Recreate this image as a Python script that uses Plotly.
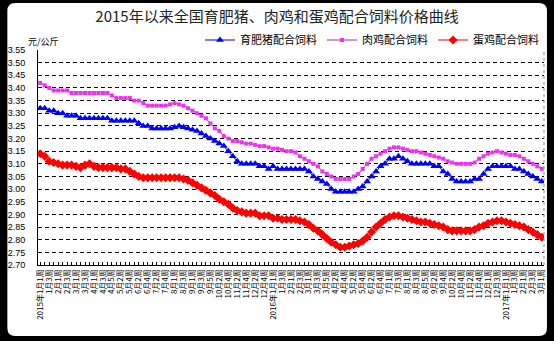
import plotly.graph_objects as go

# weeks per month (2015, 2016, early 2017)
weeks_2015 = [4, 4, 4, 5, 4, 4, 5, 4, 5, 4, 4, 5]
weeks_2016 = [4, 4, 5, 4, 4, 5, 4, 5, 4, 4, 5, 4]
weeks_2017 = [4, 4, 1]

pig = [3.32, 3.32, 3.31, 3.31, 3.30, 3.30, 3.29, 3.29, 3.29, 3.28,
       3.28, 3.28, 3.28, 3.28, 3.28, 3.28, 3.27, 3.27, 3.27, 3.27,
       3.27, 3.27, 3.26, 3.25, 3.25, 3.24, 3.24, 3.24, 3.24, 3.24,
       3.245, 3.25, 3.245, 3.24, 3.235, 3.23, 3.22, 3.21, 3.20, 3.19,
       3.18, 3.17, 3.15, 3.13, 3.11, 3.10, 3.10, 3.10, 3.10, 3.09,
       3.09, 3.08, 3.09, 3.08, 3.08, 3.08, 3.08, 3.08, 3.08, 3.08,
       3.07, 3.05, 3.04, 3.03, 3.02, 3.00, 2.99, 2.99, 2.99, 2.99,
       2.99, 3.00, 3.01, 3.03, 3.05, 3.07, 3.09, 3.10, 3.12, 3.12,
       3.13, 3.12, 3.11, 3.10, 3.10, 3.10, 3.10, 3.10, 3.09, 3.09,
       3.07, 3.06, 3.04, 3.03, 3.03, 3.03, 3.03, 3.04, 3.04, 3.06,
       3.08, 3.09, 3.09, 3.09, 3.09, 3.09, 3.08, 3.08, 3.07, 3.06,
       3.05, 3.04, 3.03]

broiler = [3.42, 3.41, 3.40, 3.39, 3.39, 3.39, 3.39, 3.38, 3.38, 3.38,
           3.38, 3.38, 3.38, 3.38, 3.38, 3.38, 3.37, 3.36, 3.36, 3.36,
           3.36, 3.35, 3.35, 3.34, 3.33, 3.33, 3.33, 3.33, 3.33, 3.335,
           3.34, 3.335, 3.33, 3.32, 3.31, 3.30, 3.29, 3.28, 3.26, 3.24,
           3.23, 3.21, 3.20, 3.19, 3.19, 3.185, 3.18, 3.18, 3.175, 3.17,
           3.17, 3.165, 3.16, 3.16, 3.155, 3.15, 3.15, 3.145, 3.13, 3.12,
           3.11, 3.10, 3.09, 3.07, 3.06, 3.05, 3.04, 3.04, 3.04, 3.04,
           3.05, 3.06, 3.08, 3.10, 3.12, 3.13, 3.14, 3.15, 3.16, 3.165,
           3.165, 3.16, 3.155, 3.15, 3.15, 3.145, 3.14, 3.135, 3.13, 3.125,
           3.12, 3.11, 3.105, 3.10, 3.10, 3.10, 3.10, 3.105, 3.12, 3.13,
           3.14, 3.145, 3.15, 3.145, 3.14, 3.135, 3.135, 3.13, 3.12, 3.11,
           3.10, 3.09, 3.08]

layer = [3.14, 3.13, 3.11, 3.105, 3.10, 3.095, 3.095, 3.095, 3.09, 3.085,
         3.095, 3.10, 3.09, 3.085, 3.085, 3.085, 3.085, 3.085, 3.08, 3.08,
         3.07, 3.06, 3.05, 3.045, 3.045, 3.045, 3.045, 3.045, 3.045, 3.045,
         3.045, 3.045, 3.04, 3.035, 3.025, 3.015, 3.005, 2.995, 2.985, 2.975,
         2.96, 2.95, 2.94, 2.925, 2.915, 2.91, 2.905, 2.905, 2.905, 2.895,
         2.895, 2.895, 2.885, 2.885, 2.88, 2.88, 2.88, 2.88, 2.875, 2.87,
         2.86, 2.845, 2.835, 2.82, 2.805, 2.79, 2.78, 2.77, 2.77, 2.775,
         2.78, 2.785, 2.795, 2.81, 2.83, 2.85, 2.865, 2.88, 2.89, 2.895,
         2.895, 2.89, 2.885, 2.88, 2.875, 2.87, 2.87, 2.865, 2.86, 2.855,
         2.85, 2.84, 2.835, 2.835, 2.835, 2.835, 2.835, 2.84, 2.85, 2.855,
         2.865, 2.87, 2.875, 2.875, 2.87, 2.865, 2.86, 2.855, 2.85, 2.84,
         2.83, 2.82, 2.81]

series_names = ["育肥猪配合饲料", "肉鸡配合饲料", "蛋鸡配合饲料"]
y_ticks = [2.70 + 0.05 * k for k in range(18)]

# build week category labels
labels = []
for year, counts in ((2015, weeks_2015), (2016, weeks_2016), (2017, weeks_2017)):
    for m, n in enumerate(counts, start=1):
        for w in range(1, n + 1):
            if m == 1 and w == 1:
                labels.append(f"{year}年{m}月{w}周")
            else:
                labels.append(f"{m}月{w}周")
labels = labels[:len(pig)]
x = list(range(len(labels)))
ticktext = [lab if i % 2 == 0 else "" for i, lab in enumerate(labels)]

fig = go.Figure()
fig.add_trace(go.Scatter(x=x, y=pig, name=series_names[0], mode="lines+markers",
                         line=dict(color="#0000CC", width=1),
                         marker=dict(symbol="triangle-up", size=7, color="#0000FF")))
fig.add_trace(go.Scatter(x=x, y=broiler, name=series_names[1], mode="lines+markers",
                         line=dict(color="#9933AA", width=1),
                         marker=dict(symbol="square", size=4, color="#EE33EE")))
fig.add_trace(go.Scatter(x=x, y=layer, name=series_names[2], mode="lines+markers",
                         line=dict(color="#EE0000", width=1),
                         marker=dict(symbol="diamond", size=7, color="#FF0000")))

L, R, T, B = 34, 8, 50, 76
W, H = 554, 341
pw, ph = W - L - R, H - T - B

def px(xp):
    return (xp - L) / pw

def py(yp):
    return (H - B - yp) / ph

r = 8
x0, x1, y0, y1 = px(3), px(549), py(3), py(336)
rx, ry = r / pw, r / ph
path = (f"M {x0+rx},{y0} L {x1-rx},{y0} Q {x1},{y0} {x1},{y0-ry} "
        f"L {x1},{y1+ry} Q {x1},{y1} {x1-rx},{y1} L {x0+rx},{y1} "
        f"Q {x0},{y1} {x0},{y1+ry} L {x0},{y0-ry} Q {x0},{y0} {x0+rx},{y0} Z")

fig.update_layout(
    width=W, height=H,
    margin=dict(l=L, r=R, t=T, b=B),
    paper_bgcolor="black",
    plot_bgcolor="white",
    font=dict(family="Noto Sans CJK SC", color="black"),
    title=dict(text="2015年以来全国育肥猪、肉鸡和蛋鸡配合饲料价格曲线",
               x=0.5, xanchor="center", y=1 - 17 / H, yanchor="middle",
               font=dict(size=15, color="#222222", family="Noto Sans CJK SC")),
    legend=dict(orientation="h", x=1.0, xanchor="right", y=py(40), yanchor="middle",
                font=dict(size=11, family="Noto Sans CJK SC"), bgcolor="rgba(0,0,0,0)",
                itemwidth=30, tracegroupgap=0),
    shapes=[
        dict(type="path", xref="paper", yref="paper", path=path,
             fillcolor="white", line=dict(width=0), layer="below"),
        dict(type="line", xref="paper", yref="paper", x0=1, x1=1, y0=0, y1=1,
             line=dict(color="#888888", width=1, dash="dot")),
    ],
    annotations=[
        dict(text="元/公斤", xref="paper", yref="paper", x=px(22), y=py(42),
             xanchor="left", yanchor="middle", showarrow=False,
             font=dict(size=9, family="Noto Sans CJK SC", color="black")),
    ],
)

fig.update_xaxes(range=[-0.5, len(x) - 0.5], tickmode="array", tickvals=x,
                 ticktext=ticktext, tickangle=-90, ticks="inside", ticklen=3,
                 tickcolor="black", showline=True, linecolor="black", linewidth=1,
                 showgrid=False, zeroline=False,
                 tickfont=dict(size=8, family="Noto Sans CJK SC", color="black"))
fig.update_yaxes(range=[2.70, 3.55], tickmode="array", tickvals=y_ticks,
                 ticktext=[f"{v:.2f}" for v in y_ticks], ticks="",
                 showline=True, linecolor="black", linewidth=1,
                 showgrid=True, gridcolor="black", gridwidth=1, griddash="4px,3px",
                 zeroline=False, ticklabelstandoff=10,
                 tickfont=dict(size=9, family="Liberation Sans", color="black"))

fig.write_html("out.html")
